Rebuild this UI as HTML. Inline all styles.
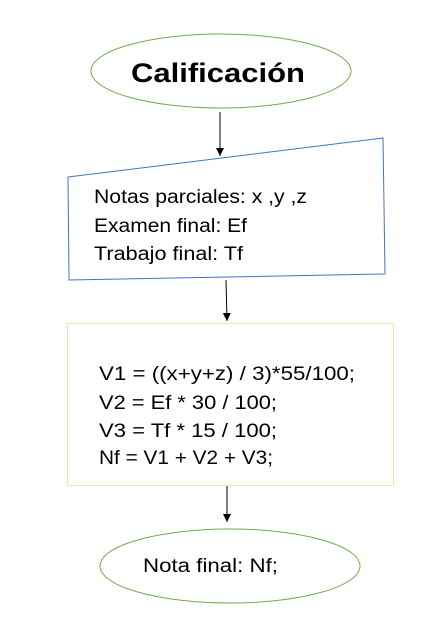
<!DOCTYPE html>
<html><head><style>html,body{margin:0;padding:0;background:#fff;}svg{display:block}</style></head>
<body>
<svg width="444" height="631" viewBox="0 0 444 631" xmlns="http://www.w3.org/2000/svg" font-family="'Liberation Sans', sans-serif">
<defs><marker id="a" markerWidth="9" markerHeight="9" refX="8" refY="4" orient="auto" markerUnits="userSpaceOnUse"><path d="M0,0 L8,4 L0,8 z" fill="#000"/></marker></defs>
<ellipse cx="221" cy="71" rx="130" ry="37" fill="#fff" stroke="#70ad47" stroke-width="1"/>
<text x="131" y="82" font-size="27" font-weight="bold" textLength="174" lengthAdjust="spacingAndGlyphs">Calificación</text>
<line x1="220" y1="112" x2="220" y2="156" stroke="#000" stroke-width="1" marker-end="url(#a)"/>
<polygon points="68,177 383,138 385,274 69,280" fill="#fff" stroke="#4472c4" stroke-width="1"/>
<g font-size="19">
<text x="94" y="203" textLength="213" lengthAdjust="spacingAndGlyphs">Notas parciales: x ,y ,z</text>
<text x="94" y="232" textLength="153" lengthAdjust="spacingAndGlyphs">Examen final: Ef</text>
<text x="94" y="260" textLength="149" lengthAdjust="spacingAndGlyphs">Trabajo final: Tf</text>
</g>
<line x1="226" y1="280" x2="227" y2="321" stroke="#000" stroke-width="1" marker-end="url(#a)"/>
<rect x="67.5" y="323.5" width="326" height="162" fill="#fff" stroke="#f5e3a0" stroke-width="1"/>
<g font-size="19">
<text x="99" y="380" textLength="256" lengthAdjust="spacingAndGlyphs">V1 = ((x+y+z) / 3)*55/100;</text>
<text x="99" y="409" textLength="178" lengthAdjust="spacingAndGlyphs">V2 = Ef * 30 / 100;</text>
<text x="99" y="437" textLength="178" lengthAdjust="spacingAndGlyphs">V3 = Tf * 15 / 100;</text>
<text x="99" y="464" textLength="174" lengthAdjust="spacingAndGlyphs">Nf = V1 + V2 + V3;</text>
</g>
<line x1="227" y1="486" x2="227" y2="522" stroke="#000" stroke-width="1" marker-end="url(#a)"/>
<ellipse cx="230" cy="566" rx="130" ry="37" fill="#fff" stroke="#70ad47" stroke-width="1"/>
<text x="143" y="572" font-size="19" textLength="135" lengthAdjust="spacingAndGlyphs">Nota final: Nf;</text>
</svg>
</body></html>
